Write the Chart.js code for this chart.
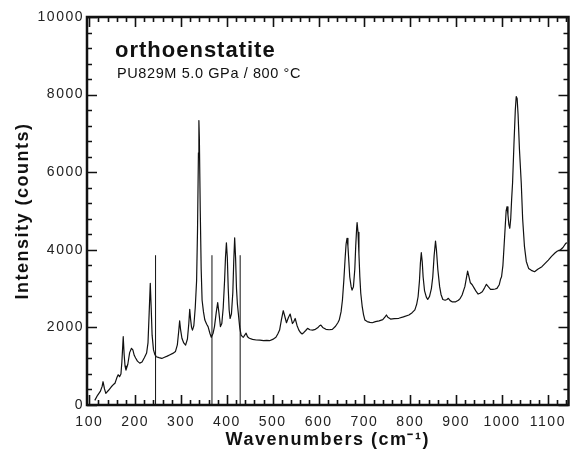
<!DOCTYPE html>
<html>
<head>
<meta charset="utf-8">
<script src="https://cdn.jsdelivr.net/npm/chart.js@4.4.0/dist/chart.umd.min.js"></script>
<style>
  html, body { margin: 0; padding: 0; background: #fff; }
  #wrap { width: 572px; height: 457px; position: relative; }
</style>
</head>
<body>
<div id="wrap"><canvas id="ramanChart"></canvas></div>
<script>
// Raman spectrum of orthoenstatite
const wavenumbers = [
  112, 118, 124, 128, 130, 133, 136, 142, 148, 152, 156, 160, 163, 166, 169, 171, 174, 176, 178, 180,
  184, 188, 192, 195, 198, 201, 205, 210, 215, 220, 225, 228, 230, 233, 235, 237, 240, 243, 246, 252,
  258, 264, 270, 275, 282, 288, 292, 295, 297, 299, 302, 306, 310, 314, 317, 319, 321, 323, 325, 328,
  331, 334, 336, 338, 339, 340, 342, 344, 346, 349, 352, 356, 359, 363, 366, 370, 373, 377, 380, 383,
  386, 389, 392, 395, 397, 399, 401, 403, 405, 407, 410, 413, 415, 417, 419, 421, 423, 425, 428, 431,
  434, 436, 439, 442, 445, 449, 456, 464, 472, 480, 487, 493, 500, 507, 511, 515, 519, 523, 526, 530,
  534, 538, 541, 543, 546, 549, 553, 557, 561, 564, 568, 572, 576, 581, 587, 593, 598, 602, 605, 609,
  616, 623, 630, 637, 642, 645, 649, 652, 655, 658, 660, 662, 664, 666, 668, 671, 673, 676, 679, 681,
  683, 684, 686, 688, 690, 692, 695, 698, 701, 706, 712, 717, 724, 732, 740, 745, 748, 751, 757, 765,
  775, 785, 797, 804, 810, 814, 817, 820, 822, 824, 826, 828, 831, 835, 838, 842, 846, 849, 852, 855,
  857, 860, 864, 867, 871, 876, 880, 883, 887, 891, 899, 905, 909, 913, 917, 919, 922, 925, 928, 931,
  935, 940, 944, 948, 952, 957, 962, 966, 970, 975, 980, 985, 989, 994, 997, 999, 1002, 1004, 1007, 1009,
  1011, 1013, 1015, 1017, 1019, 1021, 1023, 1026, 1029, 1031, 1033, 1035, 1038, 1042, 1045, 1049, 1053, 1058, 1064, 1071,
  1078, 1087, 1094, 1101, 1108, 1116, 1121, 1127, 1133, 1139, 1142
];
const intensity = [
  120, 250, 350, 480, 600, 420, 300, 380, 470, 520, 560, 700, 780, 730, 800, 1100, 1760, 1300, 1000, 900,
  1050, 1350, 1460, 1420, 1280, 1210, 1130, 1080, 1110, 1220, 1340, 1600, 2200, 3135, 2500, 1800, 1420, 1300, 1245, 1220,
  1200, 1230, 1260, 1290, 1330, 1380, 1550, 1900, 2170, 1950, 1720, 1600, 1545, 1700, 2100, 2465, 2200, 2000, 1930, 2050,
  2500, 3200, 4500, 6500, 7330, 6900, 5000, 3500, 2700, 2400, 2190, 2080, 2020, 1850, 1745, 1850, 2020, 2400, 2640, 2350,
  2020, 2100, 2500, 3200, 3800, 4180, 3800, 3000, 2450, 2230, 2350, 2900, 3700, 4310, 3800, 3000, 2600, 2360, 2000, 1800,
  1760, 1745, 1800, 1850, 1760, 1720, 1690, 1675, 1670, 1660, 1665, 1657, 1690, 1745, 1830, 1930, 2200, 2430, 2300, 2120,
  2250, 2345, 2200, 2100, 2150, 2230, 2050, 1930, 1860, 1830, 1870, 1920, 1975, 1940, 1930, 1950, 1990, 2040, 2060, 2000,
  1950, 1940, 1950, 2030, 2120, 2190, 2400, 2700, 3200, 3800, 4150, 4295, 4100, 3700, 3300, 3050, 2960, 3050, 3500, 4100,
  4550, 4700, 4450, 3900, 3300, 2880, 2550, 2330, 2190, 2150, 2130, 2120, 2150, 2170, 2200, 2270, 2320, 2260, 2215, 2225,
  2235, 2270, 2320, 2380, 2450, 2600, 2790, 3200, 3650, 3925, 3700, 3300, 2950, 2780, 2720, 2800, 3000, 3300, 3850, 4225,
  4000, 3500, 3050, 2850, 2720, 2700, 2720, 2750, 2690, 2660, 2660, 2700, 2750, 2835, 2980, 3050, 3250, 3450, 3300, 3150,
  3100, 3000, 2920, 2860, 2880, 2920, 3020, 3110, 3050, 2980, 2980, 2990, 3005, 3100, 3250, 3305, 3600, 3995, 4600, 5000,
  5110, 4900, 4650, 4555, 4800, 5300, 5715, 6700, 7600, 7950, 7900, 7500, 6600, 5715, 4800, 4080, 3700, 3520, 3470, 3435,
  3500, 3565, 3650, 3735, 3830, 3925, 3970, 3995, 4060, 4165, 4180
];
// thin vertical lines in the spectrum
const lineWavenumbers = [244.5, 367.5, 429];
const lineTop = 3860;

const xTickLabels = [100, 200, 300, 400, 500, 600, 700, 800, 900, 1000, 1100];
const yTickLabels = [0, 2000, 4000, 6000, 8000, 10000];
const xMinorStep = 20;
const yMinorStep = 400;

const sampleName = 'orthoenstatite';
const sampleInfo = 'PU829M 5.0 GPa / 800 °C';

const FONT = "'Liberation Sans', Arial, Helvetica, sans-serif";

const spectrum = wavenumbers.map((x, i) => ({ x: x, y: intensity[i] }));
const spikes = [];
lineWavenumbers.forEach(x => {
  spikes.push({ x: x, y: 0 }, { x: x, y: lineTop }, { x: x, y: null });
});

// the original lettering is widely tracked
const tracking = {
  id: 'tracking',
  beforeDraw(chart) { chart.ctx.letterSpacing = '1.5px'; }
};

// frame with inward ticks on all four sides
const frameTicks = {
  id: 'frameTicks',
  afterDraw(chart) {
    const { ctx, chartArea: a, scales } = chart;
    const xs = scales.x, ys = scales.y;
    ctx.save();
    ctx.strokeStyle = '#111';
    ctx.lineWidth = 1.6;
    ctx.beginPath();
    for (let v = 100; v <= xs.max; v += xMinorStep) {
      const px = Math.round(xs.getPixelForValue(v)) + 0.5;
      const len = v % 100 === 0 ? 10 : 5;
      ctx.moveTo(px, a.bottom); ctx.lineTo(px, a.bottom - len);
      ctx.moveTo(px, a.top); ctx.lineTo(px, a.top + len);
    }
    for (let v = 0; v <= ys.max; v += yMinorStep) {
      const py = Math.round(ys.getPixelForValue(v)) + 0.5;
      const len = v % 2000 === 0 ? 10 : 5;
      ctx.moveTo(a.left, py); ctx.lineTo(a.left + len, py);
      ctx.moveTo(a.right, py); ctx.lineTo(a.right - len, py);
    }
    ctx.stroke();
    ctx.lineWidth = 2.5;
    ctx.strokeRect(a.left, a.top, a.right - a.left, a.bottom - a.top);
    ctx.restore();
  }
};

const labels = {
  id: 'labels',
  afterDraw(chart) {
    const { ctx, chartArea: a } = chart;
    ctx.save();
    ctx.fillStyle = '#111';
    ctx.textBaseline = 'alphabetic';
    ctx.textAlign = 'left';
    ctx.letterSpacing = '1px';
    ctx.font = 'bold 22px ' + FONT;
    ctx.fillText(sampleName, a.left + 28, 57);
    ctx.letterSpacing = '0.6px';
    ctx.font = '14.5px ' + FONT;
    ctx.fillText(sampleInfo, a.left + 30, 78);
    ctx.restore();
  }
};

new Chart(document.getElementById('ramanChart'), {
  type: 'line',
  data: {
    datasets: [{
      data: spectrum,
      borderColor: '#111',
      borderWidth: 1.2,
      borderJoinStyle: 'round',
      pointRadius: 0,
      tension: 0
    }, {
      data: spikes,
      borderColor: '#111',
      borderWidth: 1,
      pointRadius: 0,
      spanGaps: false
    }]
  },
  options: {
    responsive: true,
    maintainAspectRatio: false,
    animation: false,
    events: [],
    layout: { padding: { top: 17, right: 2, left: 0, bottom: 0 } },
    plugins: { legend: { display: false }, tooltip: { enabled: false } },
    scales: {
      x: {
        type: 'linear',
        min: 95,
        max: 1145,
        grid: { display: false, drawTicks: false },
        border: { display: false },
        afterBuildTicks: s => { s.ticks = xTickLabels.map(v => ({ value: v })); },
        afterFit: s => { s.height = 52; },
        ticks: {
          color: '#222', font: { family: FONT, size: 14 }, padding: 9, maxRotation: 0, autoSkip: false,
          callback: v => String(v)
        },
        title: {
          display: true,
          text: 'Wavenumbers (cm⁻¹)',
          color: '#111',
          font: { family: FONT, size: 18, weight: 'bold' },
          padding: { top: 0, bottom: 6 }
        }
      },
      y: {
        min: 0,
        max: 10000,
        grid: { display: false, drawTicks: false },
        border: { display: false },
        afterBuildTicks: s => { s.ticks = yTickLabels.map(v => ({ value: v })); },
        afterFit: s => { s.width = 87; },
        ticks: { color: '#222', font: { family: FONT, size: 14 }, padding: 3, callback: v => String(v) },
        title: {
          display: true,
          text: 'Intensity (counts)',
          color: '#111',
          font: { family: FONT, size: 18, weight: 'bold' },
          padding: { top: 12, bottom: 0 }
        }
      }
    }
  },
  plugins: [tracking, frameTicks, labels]
});
</script>
</body>
</html>
